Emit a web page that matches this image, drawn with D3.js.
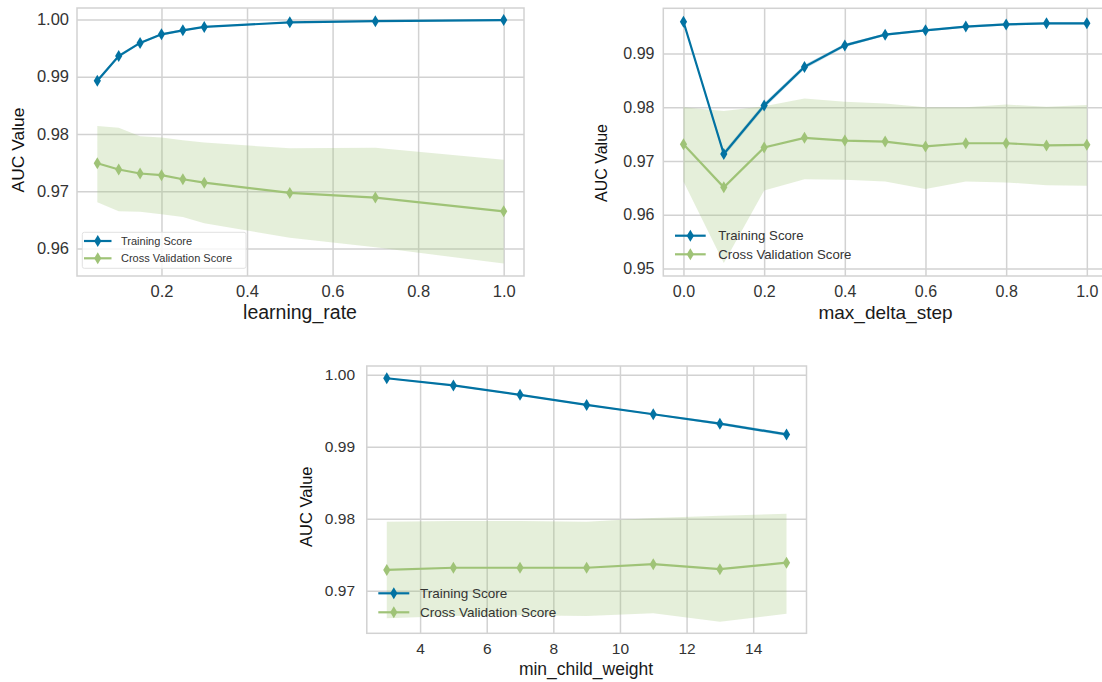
<!DOCTYPE html>
<html>
<head>
<meta charset="utf-8">
<script src="https://cdn.jsdelivr.net/npm/d3@7"></script>
<style>
  html, body { margin: 0; padding: 0; background: #fff; }
  svg { display: block; font-family: "Liberation Sans", Arial, sans-serif; }
</style>
</head>
<body>
<svg id="chart" width="1102" height="682"></svg>
<script>
// ---------- DATA ----------
// Panel 1: learning_rate
const lrX        = [0.05, 0.1, 0.15, 0.2, 0.25, 0.3, 0.5, 0.7, 1.0];
const lrTrain    = [0.9893, 0.9936, 0.9959, 0.9974, 0.9981, 0.9987, 0.9995, 0.9997, 0.9999];
const lrTrainStd = [0.0003, 0.0003, 0.0002, 0.0002, 0.0002, 0.0001, 0.0001, 0.0001, 0.0001];
const lrCV       = [0.9749, 0.9738, 0.9731, 0.9728, 0.9721, 0.9715, 0.9697, 0.9689, 0.9665];
const lrCVUpper  = [0.9814, 0.9811, 0.9796, 0.9794, 0.9789, 0.9785, 0.9775, 0.9776, 0.9755];
const lrCVLower  = [0.9681, 0.9665, 0.9664, 0.9660, 0.9655, 0.9644, 0.9619, 0.9602, 0.9574];
const lrXTicks   = [0.2, 0.4, 0.6, 0.8, 1.0];
const lrYTicks   = [0.96, 0.97, 0.98, 0.99, 1.00];

// Panel 2: max_delta_step
const mdsX        = [0.0, 0.1, 0.2, 0.3, 0.4, 0.5, 0.6, 0.7, 0.8, 0.9, 1.0];
const mdsTrain    = [0.9959, 0.9713, 0.9803, 0.9875, 0.9915, 0.9935, 0.9943, 0.9950, 0.9954, 0.9956, 0.9956];
const mdsTrainStd = [0.0002, 0.0005, 0.0005, 0.0004, 0.0003, 0.0002, 0.0002, 0.0002, 0.0002, 0.0002, 0.0002];
const mdsCV       = [0.9731, 0.9651, 0.9725, 0.9743, 0.9738, 0.9736, 0.9727, 0.9733, 0.9733, 0.9729, 0.9730];
const mdsCVUpper  = [0.9800, 0.9793, 0.9802, 0.9816, 0.9810, 0.9807, 0.9800, 0.9800, 0.9805, 0.9801, 0.9804];
const mdsCVLower  = [0.9662, 0.9510, 0.9645, 0.9666, 0.9665, 0.9662, 0.9648, 0.9662, 0.9660, 0.9655, 0.9654];
const mdsXTicks   = [0.0, 0.2, 0.4, 0.6, 0.8, 1.0];
const mdsYTicks   = [0.95, 0.96, 0.97, 0.98, 0.99];

// Panel 3: min_child_weight
const mcwX        = [3, 5, 7, 9, 11, 13, 15];
const mcwTrain    = [0.9995, 0.9985, 0.9972, 0.9958, 0.9945, 0.9932, 0.9917];
const mcwTrainStd = [0.0001, 0.0001, 0.0001, 0.0001, 0.0001, 0.0002, 0.0002];
const mcwCV       = [0.9729, 0.9732, 0.9732, 0.9732, 0.9737, 0.9730, 0.9739];
const mcwCVUpper  = [0.9796, 0.9797, 0.9797, 0.9796, 0.9801, 0.9804, 0.9807];
const mcwCVLower  = [0.9662, 0.9665, 0.9666, 0.9665, 0.9669, 0.9657, 0.9668];
const mcwXTicks   = [4, 6, 8, 10, 12, 14];
const mcwYTicks   = [0.97, 0.98, 0.99, 1.00];

const seriesNames = ["Training Score", "Cross Validation Score"];
const yLabel = "AUC Value";

// ---------- STYLE ----------
const BLUE = "#0272a2";
const GREEN = "#9fc377";
const GRID = "#d2d2d2";

const svg = d3.select("#chart");

function diamond(g, cx, cy, color) {
  g.append("path")
    .attr("d", `M${cx},${cy - 6} L${cx + 3.6},${cy} L${cx},${cy + 6} L${cx - 3.6},${cy} Z`)
    .attr("fill", color);
}

function panel(cfg) {
  const g = svg.append("g");
  const x = d3.scaleLinear().domain(cfg.xDomain).range([cfg.x0, cfg.x1]);
  const y = d3.scaleLinear().domain(cfg.yDomain).range([cfg.y1, cfg.y0]);

  // grid + axes (no tick marks)
  const gx = g.append("g").attr("transform", `translate(0,${cfg.y1})`)
    .call(d3.axisBottom(x).tickValues(cfg.xTicks).tickSize(-(cfg.y1 - cfg.y0)).tickPadding(0).tickFormat(cfg.xFmt));
  gx.select(".domain").remove();
  gx.selectAll("line").attr("stroke", GRID).attr("stroke-width", 1.5);
  gx.selectAll("text").attr("fill", "#333").attr("font-size", cfg.tickFont)
    .attr("y", cfg.xTickY - cfg.y1).attr("dy", "0.35em")
    .attr("font-family", "Liberation Sans, Arial, sans-serif");

  const gy = g.append("g").attr("transform", `translate(${cfg.x0},0)`)
    .call(d3.axisLeft(y).tickValues(cfg.yTicks).tickSize(-(cfg.x1 - cfg.x0)).tickPadding(0).tickFormat(d3.format(".2f")));
  gy.select(".domain").remove();
  gy.selectAll("line").attr("stroke", GRID).attr("stroke-width", 1.5);
  gy.selectAll("text").attr("fill", "#333").attr("font-size", cfg.yTickFont || cfg.tickFont)
    .attr("x", cfg.yTickRight - cfg.x0)
    .attr("font-family", "Liberation Sans, Arial, sans-serif");

  // frame
  g.append("rect").attr("x", cfg.x0).attr("y", cfg.y0)
    .attr("width", cfg.x1 - cfg.x0).attr("height", cfg.y1 - cfg.y0)
    .attr("fill", "none").attr("stroke", GRID).attr("stroke-width", 1.5);

  const n = cfg.xs.length;
  const idx = d3.range(n);

  // bands
  g.append("path")
    .attr("d", d3.area().x(i => x(cfg.xs[i]))
      .y0(i => y(cfg.train[i] - cfg.trainStd[i])).y1(i => y(cfg.train[i] + cfg.trainStd[i]))(idx))
    .attr("fill", BLUE).attr("fill-opacity", 0.25);
  g.append("path")
    .attr("d", d3.area().x(i => x(cfg.xs[i])).y0(i => y(cfg.cvLower[i])).y1(i => y(cfg.cvUpper[i]))(idx))
    .attr("fill", GREEN).attr("fill-opacity", 0.27);

  // lines
  const lineT = d3.line().x(i => x(cfg.xs[i])).y(i => y(cfg.train[i]));
  const lineC = d3.line().x(i => x(cfg.xs[i])).y(i => y(cfg.cv[i]));
  g.append("path").attr("d", lineT(idx)).attr("fill", "none").attr("stroke", BLUE).attr("stroke-width", 2.2);
  g.append("path").attr("d", lineC(idx)).attr("fill", "none").attr("stroke", GREEN).attr("stroke-width", 2.2);
  idx.forEach(i => diamond(g, x(cfg.xs[i]), y(cfg.train[i]), BLUE));
  idx.forEach(i => diamond(g, x(cfg.xs[i]), y(cfg.cv[i]), GREEN));

  // axis labels
  g.append("text").text(cfg.xLabel)
    .attr("x", cfg.xLabelX).attr("y", cfg.xLabelY)
    .attr("text-anchor", "middle").attr("font-size", cfg.xLabelFont).attr("fill", "#1a1a1a");
  g.append("text").text(yLabel)
    .attr("transform", `translate(${cfg.yLabelX},${cfg.yLabelY}) rotate(-90)`)
    .attr("text-anchor", "middle").attr("dominant-baseline", "central")
    .attr("font-size", cfg.yLabelFont).attr("fill", "#111");

  // legend
  const L = cfg.legend;
  if (L.frame) {
    g.append("rect").attr("x", L.frame[0]).attr("y", L.frame[1])
      .attr("width", L.frame[2] - L.frame[0]).attr("height", L.frame[3] - L.frame[1])
      .attr("rx", 2).attr("fill", "#fff").attr("fill-opacity", 0.8)
      .attr("stroke", "#e2e2e2").attr("stroke-width", 1);
  }
  [BLUE, GREEN].forEach((c, k) => {
    const ly = L.ys[k];
    g.append("line").attr("x1", L.lx0).attr("x2", L.lx1).attr("y1", ly).attr("y2", ly)
      .attr("stroke", c).attr("stroke-width", 2.2);
    diamond(g, (L.lx0 + L.lx1) / 2, ly, c);
    g.append("text").text(seriesNames[k]).attr("x", L.tx).attr("y", ly)
      .attr("dy", "0.35em").attr("font-size", L.font).attr("fill", "#333");
  });
}

panel({
  x0: 77, x1: 524, y0: 8, y1: 276,
  xDomain: [0.0025, 1.0475], yDomain: [0.9552, 1.0020],
  xs: lrX, train: lrTrain, trainStd: lrTrainStd, cv: lrCV, cvUpper: lrCVUpper, cvLower: lrCVLower,
  xTicks: lrXTicks, yTicks: lrYTicks, xFmt: d3.format(".1f"),
  tickFont: 16.5, xTickY: 291.5, yTickRight: 69,
  xLabel: "learning_rate", xLabelX: 300, xLabelY: 319, xLabelFont: 19.5,
  yLabelX: 17.5, yLabelY: 150, yLabelFont: 17.4,
  legend: { frame: [82.3, 232.3, 246, 268.3], lx0: 84, lx1: 111.5, tx: 121, ys: [241, 258.3], font: 11 }
});

panel({
  x0: 663.3, x1: 1107, y0: 8.3, y1: 276,
  xDomain: [-0.05, 1.05], yDomain: [0.9486, 0.9984],
  xs: mdsX, train: mdsTrain, trainStd: mdsTrainStd, cv: mdsCV, cvUpper: mdsCVUpper, cvLower: mdsCVLower,
  xTicks: mdsXTicks, yTicks: mdsYTicks, xFmt: d3.format(".1f"),
  tickFont: 16, xTickY: 291, yTickRight: 654.5,
  xLabel: "max_delta_step", xLabelX: 885.5, xLabelY: 319, xLabelFont: 19,
  yLabelX: 601.5, yLabelY: 163, yLabelFont: 16,
  legend: { frame: null, lx0: 675, lx1: 705.7, tx: 718.3, ys: [235.7, 254.3], font: 13.2 }
});

panel({
  x0: 366.8, x1: 806.5, y0: 366, y1: 633.3,
  xDomain: [2.4, 15.6], yDomain: [0.9641, 1.0012],
  xs: mcwX, train: mcwTrain, trainStd: mcwTrainStd, cv: mcwCV, cvUpper: mcwCVUpper, cvLower: mcwCVLower,
  xTicks: mcwXTicks, yTicks: mcwYTicks, xFmt: d3.format("d"),
  tickFont: 15.5, xTickY: 648.3, yTickRight: 355,
  xLabel: "min_child_weight", xLabelX: 586, xLabelY: 675, xLabelFont: 17.5,
  yLabelX: 305.6, yLabelY: 506.7, yLabelFont: 16.5,
  legend: { frame: null, lx0: 378.3, lx1: 409.3, tx: 420, ys: [593.3, 612.3], font: 13.5 }
});
</script>
</body>
</html>
